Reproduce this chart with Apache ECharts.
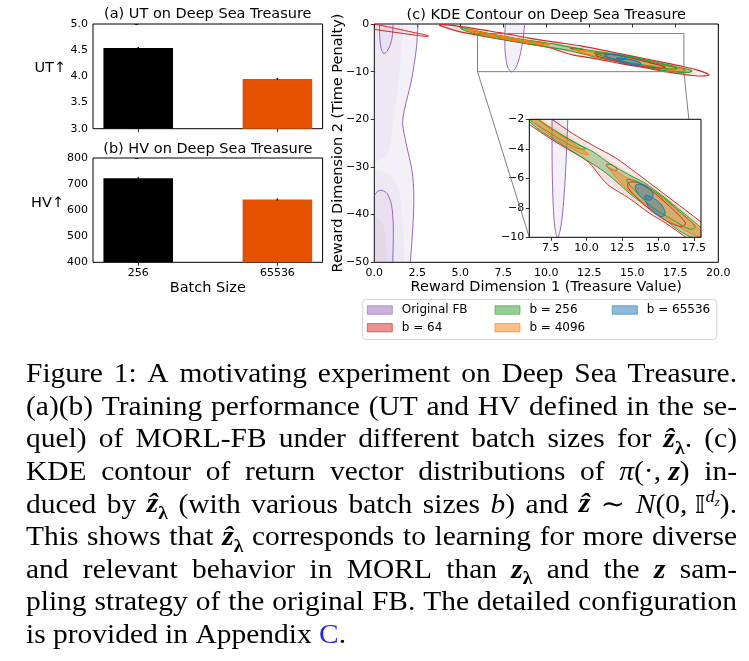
<!DOCTYPE html>
<html><head><meta charset="utf-8">
<script src="https://cdn.jsdelivr.net/npm/echarts@6/dist/echarts.min.js"></script>
<style>html,body{margin:0;padding:0;background:#fff}#c{width:749px;height:661px}</style>
</head><body><div id="c"></div>
<script>
// ---------------- DATA ----------------
const batchSizes = ['256', '65536'];
const batchPos = [0, 1];
const utValues = [4.54, 3.95];
const utErr = [0.006, 0.006];
const hvValues = [722, 641];
const hvErr = [1.2, 1.2];
const barColors = ['#000000', '#e65100'];

const mainXTicks = { min: 0, max: 20, interval: 2.5 };
const mainYTicks = { min: -50, max: 0, interval: 10 };
const insetX = [6, 18];
const insetY = [-10, -2];
const insetXTicks = [7.5, 10, 12.5, 15, 17.5];

const legendNames = ['Original FB', 'b = 64', 'b = 256', 'b = 4096', 'b = 65536'];
const legendColors = ['#9467bd', '#d62728', '#2ca02c', '#ff7f0e', '#1f77b4'];

// Original FB (purple) KDE contours
const fbRegionOuter = [[2.65,2],[2.55,0],[2.45,-5],[2.15,-12],[1.75,-18],[1.65,-21],[1.85,-25],[2.2,-31],[2.3,-36],[2.25,-42],[2.1,-50],[2.08,-52]];
const fbBandTop = [[1.6,2],[1.55,-6],[1.35,-14],[1.05,-22],[0.8,-27],[0,-29],[-1,-29],[-1,2]];
const fbBandBottom = [[-1,-30],[0,-30.5],[0.9,-31.5],[1.45,-35],[1.65,-42],[1.6,-52],[-1,-52]];
const fbTopInner = [[0.3,2],[0.3,0],[0.32,-3],[0.4,-5.2],[0.56,-6.2],[0.78,-5.5],[1.0,-3.5],[1.08,-1],[1.1,2]];
const fbBottomInner = [[-0.6,-38],[0,-36],[0.2,-35.1],[0.45,-34.9],[0.75,-35.6],[1.0,-38],[1.1,-42],[1.1,-46],[1.05,-52]];
const fbBottomCore = [[-1,-40],[0,-40.5],[0.45,-41.5],[0.65,-45],[0.65,-52],[-1,-52]];
const fbEllipse = [[7.67,3],[7.62,0],[7.59,-2],[7.59,-4],[7.61,-6],[7.68,-8],[7.75,-9],[7.83,-9.6],[7.98,-10.05],[8.14,-9.6],[8.25,-9],[8.36,-8],[8.51,-6],[8.61,-4],[8.69,-2],[8.74,0],[8.77,3]];

// b = 64 (red)
const red64Corner = [[-1.2,0.9],[0,0.0],[1,-0.75],[2,-1.55],[2.8,-2.15],[3.15,-2.5],[3.0,-2.6],[2.4,-2.35],[1.5,-1.9],[0.5,-1.4],[0,-1.12],[-1.2,-0.5]];
const red64Band = [[3.8,-0.15],[4.5,-0.27],[5.5,-0.78],[6.5,-1.35],[7.4,-1.88],[9,-2.95],[10.5,-3.8],[12,-4.6],[13.5,-5.65],[15,-6.75],[16.5,-7.85],[18,-8.97],[18.8,-9.67],[19.3,-10.3],[19.45,-10.7],[19.2,-10.9],[18.5,-10.8],[17.2,-10.15],[15.5,-9.02],[14.4,-8.37],[13,-7.37],[11.6,-6.52],[11,-5.92],[10.1,-4.87],[8.7,-4.03],[7.3,-3.2],[6,-2.35],[5,-1.65],[4.2,-0.8],[3.8,-0.3]];
const red64Inner = [[4.6,-0.5],[6.5,-1.7],[8,-2.65],[9.5,-3.45],[11,-4.35],[12.5,-5.3],[14,-6.1],[15.5,-7.15],[17,-8.3],[18.6,-9.65],[18.6,-10.4],[17,-9.95],[15.5,-9.05],[14,-8.05],[12.5,-7.0],[11,-5.8],[9.5,-4.8],[8,-3.8],[6.5,-2.75],[5,-1.5],[4.6,-0.85]];
const red64Loop = [[12.9,-6.3],[13.6,-6.3],[14.6,-6.9],[15.8,-7.9],[16.9,-9.0],[16.7,-9.3],[15.6,-8.9],[14.4,-8.1],[13.4,-7.2],[12.95,-6.7]];
const red64Small = [[11.4,-5.05],[11.8,-5.1],[12.15,-5.4],[11.9,-5.47],[11.5,-5.28]];

// b = 256 (green)
const green256Band = [[5.0,-0.7],[6.5,-1.9],[8,-2.88],[9.5,-3.73],[10.5,-4.23],[11.6,-4.98],[13,-5.78],[14,-6.28],[15.5,-7.33],[16.5,-8.13],[17.5,-8.93],[18.45,-9.8],[18.3,-10.15],[17.5,-10.05],[16.5,-9.57],[15.5,-8.82],[14,-7.77],[13,-7.02],[12.2,-6.32],[11.4,-5.67],[10.5,-5.07],[9.5,-4.47],[8,-3.52],[6.5,-2.57],[5.2,-1.3]];
const green256LoopA = [[5.8,-1.5],[7.5,-2.65],[9.2,-3.6],[9.95,-4.0],[9.3,-3.95],[8,-3.25],[6.5,-2.35],[5.8,-1.85]];
const green256LoopB = [[12.8,-6.1],[13.5,-6.2],[15,-7.05],[16.5,-8.25],[17.6,-9.3],[17.2,-9.45],[16,-8.8],[14.5,-7.9],[13.3,-6.75]];

// b = 4096 (orange)
const orange4096A = [[5.3,-1.0],[6.5,-1.95],[8,-2.95],[9.3,-3.8],[10.15,-4.38],[9.6,-4.3],[8,-3.4],[6.5,-2.4],[5.5,-1.45]];
const orange4096B = [[11.6,-5.3],[12.8,-5.95],[14,-6.45],[15.5,-7.5],[16.5,-8.3],[17.5,-9.1],[18.1,-9.7],[17.9,-9.95],[17,-9.6],[16,-9.0],[15,-8.35],[14,-7.65],[13,-6.9],[12.2,-6.1]];

// b = 65536 (blue)
const blue65536A = [[13.4,-6.5],[13.8,-6.4],[14.3,-6.6],[14.65,-7.1],[14.5,-7.45],[14.0,-7.4],[13.6,-7.05]];
const blue65536B = [[14.1,-7.15],[14.6,-7.3],[15.2,-7.75],[15.5,-8.35],[15.3,-8.6],[14.8,-8.4],[14.3,-7.9]];

// caption
const captionLines = [
  ['Figure','1:','A','motivating','experiment','on','Deep','Sea','Treasure.'],
  ['(a)(b)','Training','performance','(UT','and','HV','defined','in','the','se-'],
  ['quel)','of','MORL-FB','under','different','batch','sizes','for',[['\u1E91','bi'],['\u03BB','sub'],['.','r']],'(c)'],
  ['KDE','contour','of','return','vector','distributions','of',[['\u03C0','i'],['(\u00B7, ','r'],['z','bi'],[')','r']],'in-'],
  ['duced','by',[['\u1E91','bi'],['\u03BB','sub']],'(with','various','batch','sizes',[['b','i'],[')','r']],'and',[['\u1E91','bi']],'\u223C',[['N','i'],['(0, ','r'],['\uD835\uDD40','bb'],['d','sup'],['z','supsub'],[').','r']]],
  ['This','shows','that',[['\u1E91','bi'],['\u03BB','sub']],'corresponds','to','learning','for','more','diverse'],
  ['and','relevant','behavior','in','MORL','than',[['z','bi'],['\u03BB','sub']],'and','the',[['z','bi']],'sam-'],
  ['pling','strategy','of','the','original','FB.','The','detailed','configuration'],
  ['is','provided','in','Appendix',[['C','link'],['.','r']]]
];

// ---------------- CHART ----------------
const chart = echarts.init(document.getElementById('c'), null, {renderer: 'canvas', width: 749, height: 661});
const SANS = 'DejaVu Sans';
const tickFont = {fontFamily: SANS, fontSize: 11, color: '#000'};
const minus = v => (v < 0 ? '\u2212' + Math.abs(v) : String(v));

const grids = [
  {left: 93, top: 24, width: 229.6, height: 104.7},
  {left: 93, top: 158, width: 229.6, height: 104.3},
  {left: 374.3, top: 24, width: 344, height: 238.3},
  {left: 529.3, top: 119.3, width: 171.7, height: 118}
].map((g, i) => Object.assign({show: i < 3, borderColor: '#000', borderWidth: 1, backgroundColor: 'transparent', containLabel: false}, g));

function axisBase(gi, extra) {
  return Object.assign({
    gridIndex: gi, type: 'value',
    axisLine: {show: false}, splitLine: {show: false},
    axisTick: {show: true, length: 3.5, lineStyle: {color: '#000', width: 0.8}},
    axisLabel: Object.assign({margin: 5}, tickFont)
  }, extra);
}
const barXMin = -0.325, barXMax = 1.325;
const tickStyle = {show: true, length: 3.5, lineStyle: {color: '#000', width: 0.8}};
const xAxes = [
  axisBase(0, {min: barXMin, max: barXMax, axisTick: Object.assign({customValues: batchPos}, tickStyle), axisLabel: {show: false, customValues: batchPos}}),
  axisBase(1, {min: barXMin, max: barXMax, axisTick: Object.assign({customValues: batchPos}, tickStyle), axisLabel: Object.assign({customValues: batchPos, margin: 5, formatter: v => batchSizes[Math.round(v)]}, tickFont)}),
  axisBase(2, {min: mainXTicks.min, max: mainXTicks.max, interval: mainXTicks.interval, axisLabel: Object.assign({margin: 5, formatter: v => v.toFixed(1)}, tickFont)}),
  axisBase(3, {min: insetX[0], max: insetX[1], axisTick: Object.assign({customValues: insetXTicks}, tickStyle), axisLabel: Object.assign({customValues: insetXTicks, margin: 5, formatter: v => v.toFixed(1)}, tickFont)})
];
const yAxes = [
  axisBase(0, {min: 3, max: 5, interval: 0.5, axisLabel: Object.assign({margin: 5, formatter: v => v.toFixed(1)}, tickFont)}),
  axisBase(1, {min: 400, max: 800, interval: 100}),
  axisBase(2, {min: mainYTicks.min, max: mainYTicks.max, interval: mainYTicks.interval, axisLabel: Object.assign({margin: 5, formatter: minus}, tickFont)}),
  axisBase(3, {min: insetY[0], max: insetY[1], interval: 2, axisLabel: Object.assign({margin: 5, formatter: minus}, tickFont)})
];

const barPx = 0.5 / (barXMax - barXMin) * 229.6;
function barSeries(gi, vals) {
  return {type: 'bar', xAxisIndex: gi, yAxisIndex: gi, barWidth: barPx, z: 2,
    data: vals.map((v, i) => ({value: [batchPos[i], v], itemStyle: {color: barColors[i]}}))};
}
function errSeries(gi, vals, errs) {
  return {type: 'custom', xAxisIndex: gi, yAxisIndex: gi, z: 3,
    data: vals.map((v, i) => [batchPos[i], v, errs[i]]),
    renderItem: (p, api) => {
      const x = api.value(0), v = api.value(1), e = api.value(2);
      const a = api.coord([x, v - e]), b = api.coord([x, v + e]);
      return {type: 'line', shape: {x1: a[0], y1: a[1] + 0.7, x2: b[0], y2: b[1] - 0.7}, style: {stroke: '#000', lineWidth: 1.5}};
    }};
}
function shape(pts, gi, opt) {
  const closed = opt.closed !== false;
  return {
    type: 'custom', xAxisIndex: gi, yAxisIndex: gi, z: opt.z || 2, clip: true, silent: true,
    data: pts,
    renderItem: (params, api) => {
      if (params.dataIndex !== 0) return null;
      const cs = params.coordSys;
      const P = pts.map(p => api.coord(p));
      return {type: 'group', clipPath: {type: 'rect', shape: {x: cs.x, y: cs.y, width: cs.width, height: cs.height}},
        children: [{type: closed ? 'polygon' : 'polyline',
          shape: {points: P, smooth: opt.smooth == null ? 0.3 : opt.smooth},
          style: {fill: closed && opt.fill ? opt.fill : 'none', stroke: opt.stroke || 'none', lineWidth: opt.lw || 1}}]};
    }
  };
}
const C = {purple: '#9467bd', red: '#d62728', green: '#2ca02c', orange: '#ff7f0e', blue: '#1f77b4'};
const F = {purple: 'rgba(148,103,189,0.1)', red: 'rgba(214,39,40,0.08)', green: 'rgba(44,160,44,0.3)', orange: 'rgba(255,127,14,0.4)', blue: 'rgba(31,119,180,0.42)'};

function bandSeries(gi, z, lw) {
  return [
    shape(fbEllipse, gi, {fill: F.purple, stroke: C.purple, z, lw: 1}),
    shape(red64Band, gi, {fill: F.red, stroke: C.red, z, lw}),
    shape(red64Inner, gi, {fill: F.red, z}),
    shape(red64Small, gi, {stroke: C.red, z, lw}),
    shape(green256Band, gi, {fill: F.green, stroke: C.green, z, lw}),
    shape(green256LoopA, gi, {stroke: C.green, z, lw}),
    shape(orange4096A, gi, {fill: F.orange, stroke: C.orange, z, lw}),
    shape(orange4096B, gi, {fill: F.orange, stroke: C.orange, z, lw}),
    shape(red64Loop, gi, {stroke: C.red, z, lw}),
    shape(green256LoopB, gi, {stroke: C.green, z, lw}),
    shape(blue65536A, gi, {fill: F.blue, stroke: C.blue, z, lw}),
    shape(blue65536B, gi, {fill: F.blue, stroke: C.blue, z, lw})
  ];
}

const insetRect = [[insetX[0], insetY[1]], [insetX[1], insetY[1]], [insetX[1], insetY[0]], [insetX[0], insetY[0]]];
const series = [
  barSeries(0, utValues), errSeries(0, utValues, utErr),
  barSeries(1, hvValues), errSeries(1, hvValues, hvErr),
  // main KDE plot
  shape(fbRegionOuter.concat([[-1, -52], [-1, 2]]), 2, {fill: F.purple, smooth: 0.2}),
  shape(fbBandTop, 2, {fill: 'rgba(148,103,189,0.06)', smooth: 0.2}),
  shape(fbBandBottom, 2, {fill: 'rgba(148,103,189,0.06)', smooth: 0.2}),
  shape(fbTopInner.concat([[1.1, 3], [0.3, 3]]), 2, {fill: 'rgba(148,103,189,0.05)'}),
  shape(fbBottomInner.concat([[-1, -52]]), 2, {fill: 'rgba(148,103,189,0.06)'}),
  shape(fbBottomCore, 2, {fill: 'rgba(148,103,189,0.06)', smooth: 0.2}),
  shape(fbRegionOuter, 2, {closed: false, stroke: C.purple, smooth: 0.3}),
  shape(fbTopInner, 2, {closed: false, stroke: C.purple}),
  shape(fbBottomInner, 2, {closed: false, stroke: C.purple}),
  shape(red64Corner, 2, {fill: F.red, stroke: C.red}),
  ...bandSeries(2, 2, 1.2),
  shape(insetRect, 2, {stroke: '#7f7f7f', smooth: 0, z: 2}),
  // inset
  {type: 'custom', xAxisIndex: 3, yAxisIndex: 3, z: 3, silent: true, data: [insetRect[0]],
    renderItem: (p) => ({type: 'rect', shape: {x: p.coordSys.x, y: p.coordSys.y, width: p.coordSys.width, height: p.coordSys.height}, style: {fill: '#fff'}})},
  ...bandSeries(3, 4, 1),
  {type: 'custom', xAxisIndex: 3, yAxisIndex: 3, z: 5, silent: true, data: [insetRect[0]],
    renderItem: (p) => ({type: 'rect', shape: {x: p.coordSys.x, y: p.coordSys.y, width: p.coordSys.width, height: p.coordSys.height}, style: {fill: 'none', stroke: '#000', lineWidth: 1}})}
];

chart.setOption({animation: false, backgroundColor: '#fff', grid: grids, xAxis: xAxes, yAxis: yAxes, series});

// ---------------- TEXT / GRAPHICS ----------------
const G = [];
function txt(t, x, y, o) {
  o = o || {};
  G.push({type: 'text', x, y, rotation: o.rot || 0, z: 10,
    style: {text: t, font: o.font || ('14.5px "' + SANS + '"'), fill: o.color || '#000',
      align: o.align || 'center', textAlign: o.align || 'center', verticalAlign: 'middle', textVerticalAlign: 'middle'}});
}
txt('(a) UT on Deep Sea Treasure', 207.8, 14.5);
txt('(b) HV on Deep Sea Treasure', 207.8, 149);
txt('UT\u2191', 66, 68, {align: 'right'});
txt('HV\u2191', 64, 203.5, {align: 'right'});
txt('Batch Size', 207.8, 288);
txt('(c) KDE Contour on Deep Sea Treasure', 546.3, 15);
txt('Reward Dimension 1 (Treasure Value)', 546.3, 287);
txt('Reward Dimension 2 (Time Penalty)', 338, 143, {rot: Math.PI / 2});

// inset connector lines (through the library's coordinate conversion)
[[insetX[0], insetY[0]], [insetX[1], insetY[0]]].forEach(pt => {
  const a = chart.convertToPixel({gridIndex: 2}, pt);
  const b = chart.convertToPixel({gridIndex: 3}, pt);
  G.push({type: 'line', z: 1, shape: {x1: a[0], y1: a[1], x2: b[0], y2: b[1]}, style: {stroke: '#7f7f7f', lineWidth: 1}});
});

// legend
G.push({type: 'rect', z: 9, shape: {x: 362.7, y: 299.5, width: 354, height: 40, r: 3}, style: {fill: 'rgba(255,255,255,0.8)', stroke: '#d5d5d5', lineWidth: 1}});
const legCols = [367.3, 495, 612.3], legRows = [310, 327.7];
legendNames.forEach((n, i) => {
  const cx = legCols[Math.floor(i / 2)], cy = legRows[i % 2];
  G.push({type: 'rect', z: 10, shape: {x: cx, y: cy - 4.2, width: 25, height: 8.4}, style: {fill: echarts.color.modifyAlpha(legendColors[i], 0.5), stroke: echarts.color.modifyAlpha(legendColors[i], 0.6), lineWidth: 1}});
  txt(n, cx + 34.4, cy, {align: 'left', font: '12px "' + SANS + '"'});
});

// caption with justified lines
const SERIF = '"Liberation Serif", "DejaVu Serif", serif';
const K = {
  r: {font: '27px ' + SERIF, dy: 0},
  i: {font: 'italic 27px ' + SERIF, dy: 0},
  bi: {font: 'italic bold 27px ' + SERIF, dy: 0},
  sub: {font: 'bold 18px ' + SERIF, dy: 6, size: 18},
  sup: {font: 'italic 17px ' + SERIF, dy: -11, size: 17},
  supsub: {font: 'italic 12px ' + SERIF, dy: -8, size: 12},
  bb: {font: '25px "DejaVu Sans", ' + SERIF, dy: 0, size: 25},
  link: {font: '27px ' + SERIF, dy: 0, color: '#2a2ad8'}
};
const mctx = document.createElement('canvas').getContext('2d');
function mw(t, k) { mctx.font = K[k].font; return mctx.measureText(t).width; }
function spans(tok) { return typeof tok === 'string' ? [[tok, 'r']] : tok; }
const capL = 26, capR = 737, capW = capR - capL;
const baseline0 = 384.3, lineStep = 32.6;
const natSpace = mw(' ', 'r');
const lastTokens = captionLines[captionLines.length - 1];
const lastW = lastTokens.reduce((s, t) => s + spans(t).reduce((a, [x, k]) => a + mw(x, k), 0), 0) + natSpace * (lastTokens.length - 1);
const capSx = Math.max(0.9, Math.min(1.2, 320 / lastW));
captionLines.forEach((tokens, li) => {
  const widths = tokens.map(t => spans(t).reduce((a, [x, k]) => a + mw(x, k), 0));
  const T = widths.reduce((a, b) => a + b, 0);
  const gaps = tokens.length - 1;
  let sx = capSx, sp;
  if (li < captionLines.length - 1) {
    sp = (capW - T * sx) / gaps;
    if (sp < natSpace * sx * 0.6) { sx = capW / (T + gaps * natSpace * 0.6); sp = natSpace * sx * 0.6; }
  } else sp = natSpace * sx;
  const base = baseline0 + li * lineStep;
  let x = capL;
  tokens.forEach((t) => {
    spans(t).forEach(([s, k]) => {
      const d = K[k];
      const size = d.size || 27;
      G.push({type: 'text', x, y: base + d.dy - 0.34 * size, scaleX: sx, z: 10,
        style: {text: s, font: d.font, fill: d.color || '#000', align: 'left', textAlign: 'left', verticalAlign: 'middle', textVerticalAlign: 'middle'}});
      x += mw(s, k) * sx;
    });
    x += sp;
  });
});

chart.setOption({graphic: G});
</script>
</body></html>
